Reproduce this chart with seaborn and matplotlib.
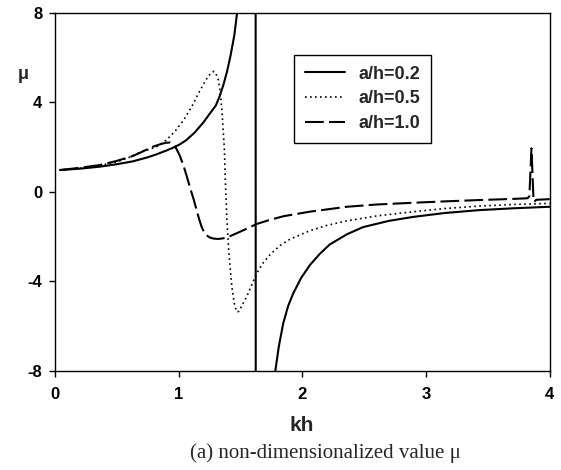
import matplotlib
matplotlib.use('agg')
import matplotlib.pyplot as plt
import seaborn as sns
import pandas as pd

# a/h = 0.2 (solid) - pole near kh = 1.62
kh_02 = [0.04, 0.2, 0.36, 0.5, 0.63, 0.69, 0.75, 0.82, 0.90, 0.96, 1.01, 1.06, 1.13, 1.20,
         1.25, 1.30, 1.33, 1.36, 1.39, 1.42, 1.45, 1.47, 1.49, 1.52, 1.57, 1.60, 1.62,
         1.625, 1.70, 1.75, 1.786, 1.81, 1.845, 1.885, 1.926, 1.99, 2.06, 2.14, 2.22, 2.36,
         2.49, 2.7, 2.90, 3.15, 3.43, 3.7, 4.0]
mu_02 = [0.97, 1.03, 1.12, 1.23, 1.36, 1.45, 1.54, 1.67, 1.84, 1.98, 2.12, 2.3, 2.65, 3.1,
         3.48, 3.85, 4.25, 4.75, 5.35, 6.1, 7.0, 7.9, 8.9, 10.5, 15, 25, 60,
         -60, -12, -9.2, -7.82, -6.9, -5.88, -5.1, -4.54, -3.85, -3.28, -2.78, -2.36, -1.9,
         -1.58, -1.3, -1.12, -0.95, -0.82, -0.74, -0.67]

# a/h = 0.5 (dotted)
kh_05 = [0.04, 0.2, 0.36, 0.5, 0.63, 0.69, 0.82, 0.90, 0.97, 1.04, 1.11, 1.16, 1.20, 1.23,
         1.26, 1.285, 1.30, 1.32, 1.335, 1.35, 1.36, 1.37, 1.376, 1.39, 1.406, 1.43, 1.45,
         1.468, 1.485, 1.50, 1.55, 1.63, 1.68, 1.74, 1.82, 1.90, 2.06, 2.2, 2.36, 2.6, 2.90,
         3.15, 3.43, 3.7, 4.0]
mu_05 = [0.97, 1.05, 1.17, 1.33, 1.6, 1.77, 2.0, 2.31, 2.7, 3.2, 3.85, 4.4, 4.8, 5.08,
         5.3, 5.38, 5.3, 5.0, 4.5, 3.6, 2.7, 1.86, 0.67, -1.26, -2.75, -4.25, -5.0,
         -5.36, -5.35, -5.2, -4.69, -3.65, -3.2, -2.8, -2.4, -2.12, -1.74, -1.5, -1.3, -1.08,
         -0.89, -0.75, -0.64, -0.57, -0.52]

# a/h = 1.0 (dashed)
kh_10 = [0.04, 0.2, 0.36, 0.5, 0.63, 0.69, 0.79, 0.86, 0.90, 0.93, 0.955, 0.98, 1.01, 1.04,
         1.065, 1.09, 1.12, 1.145, 1.165, 1.185, 1.205, 1.225, 1.25, 1.28, 1.32, 1.36, 1.40,
         1.495, 1.55, 1.63, 1.74, 1.85, 2.06, 2.36, 2.6, 2.90, 3.15, 3.43, 3.7, 3.82, 3.835,
         3.852, 3.868, 3.875, 3.89, 4.0]
mu_10 = [0.97, 1.07, 1.19, 1.38, 1.6, 1.75, 2.01, 2.14, 2.19, 2.2, 2.12, 1.94, 1.6, 1.15,
         0.7, 0.22, -0.32, -0.82, -1.22, -1.56, -1.8, -1.94, -2.04, -2.09, -2.11, -2.08,
         -2.02, -1.79, -1.65, -1.44, -1.25, -1.09, -0.89, -0.67, -0.57, -0.49, -0.43, -0.37,
         -0.32, -0.29, -0.2, 1.94, -0.3, -0.45, -0.36, -0.33]

labels = ['a/h=0.2', 'a/h=0.5', 'a/h=1.0']
x_ticks = [0, 1, 2, 3, 4]
y_ticks = [-8, -4, 0, 4, 8]

sns.set_style('ticks')
plt.rcParams['font.family'] = ['Liberation Sans', 'DejaVu Sans']
plt.rcParams['axes.unicode_minus'] = False

fig = plt.figure(figsize=(5.61, 4.70), dpi=100)
ax = fig.add_axes([0.098, 0.211, 0.882, 0.762])

styles = [dict(linestyle='-', linewidth=1.5),
          dict(linestyle=(0, (1, 2)), linewidth=1.2),
          dict(linestyle=(0, (9, 2.5)), linewidth=1.5)]
for xs, ys, lab, st in zip([kh_02, kh_05, kh_10], [mu_02, mu_05, mu_10], labels, styles):
    df = pd.DataFrame({'kh': xs, 'mu': ys})
    sns.lineplot(data=df, x='kh', y='mu', ax=ax, color='black', label=lab,
                 estimator=None, sort=False, **st)

ax.set_xlim(0, 4)
ax.set_ylim(-8, 8)
ax.set_xticks(x_ticks)
ax.set_yticks(y_ticks)
ax.tick_params(direction='out', length=4, width=1, labelsize=12, colors='black')
ax.tick_params(axis='x', pad=8)
ax.tick_params(axis='y', pad=5)
for t in ax.get_xticklabels() + ax.get_yticklabels():
    t.set_fontweight('bold')
for s in ax.spines.values():
    s.set_color('black')
    s.set_linewidth(1.0)
    s.set_visible(True)

ax.set_xlabel('kh', fontsize=15, fontweight='bold')
ax.xaxis.set_label_coords(0.498, -0.125)
ax.set_ylabel('μ', fontsize=13, fontweight='bold', rotation=0)
ax.yaxis.set_label_coords(-0.065, 0.805)

leg = ax.legend(loc='upper left', bbox_to_anchor=(0.483, 0.882), borderaxespad=0,
                fancybox=False, edgecolor='black', framealpha=1, handlelength=2.2,
                handletextpad=0.78, borderpad=0.6, labelspacing=0.42,
                prop={'weight': 'bold', 'size': 13})
leg.get_frame().set_linewidth(1.0)

fig.text(0.58, 0.015, '(a) non-dimensionalized value μ', ha='center', va='bottom',
         fontsize=15, family=['Liberation Serif', 'DejaVu Serif'])

fig.savefig('out.png', dpi=100)
